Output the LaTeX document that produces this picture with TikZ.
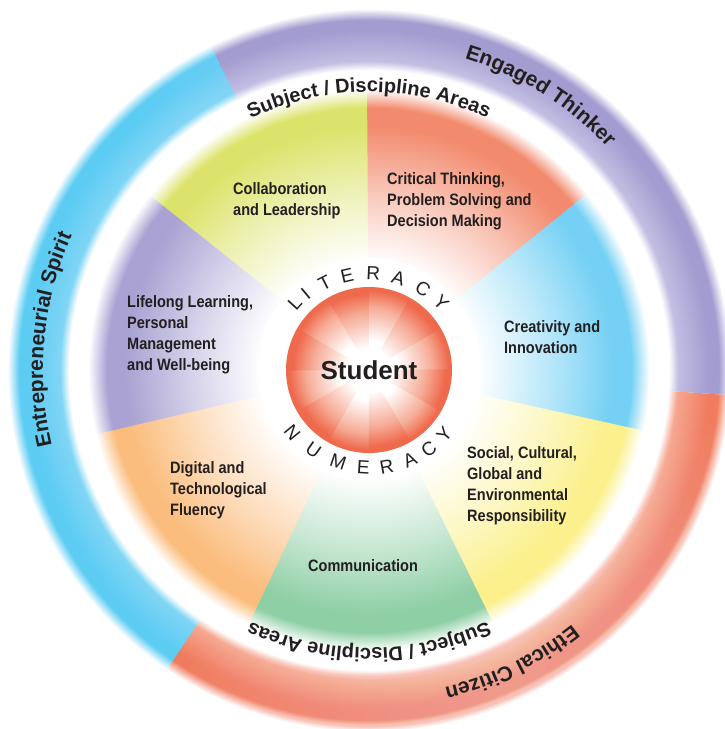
\documentclass[tikz,border=0pt]{standalone}
\usepackage{fontspec}
\setmainfont{Liberation Sans}
\newfontfamily\condfont[FakeStretch=0.88]{Liberation Sans}
\usetikzlibrary{decorations.text}

\definecolor{txt}{HTML}{231F20}
\definecolor{rPur}{HTML}{A39CD0}
\definecolor{rPurL}{HTML}{C2BEE2}
\definecolor{rBlu}{HTML}{5DCCF3}
\definecolor{rBluL}{HTML}{80D5F5}
\definecolor{rRed}{HTML}{F07C5F}
\definecolor{rRedL}{HTML}{F6A690}
\definecolor{wYG}{HTML}{DCE36A}
\definecolor{wSal}{HTML}{F28A6D}
\definecolor{wBlu}{HTML}{74D0F4}
\definecolor{wYel}{HTML}{FBF08C}
\definecolor{wGrn}{HTML}{8ECFA5}
\definecolor{wOrg}{HTML}{FBBD7E}
\definecolor{wPur}{HTML}{A9A2D3}
\definecolor{sRed}{HTML}{EF6A4D}
\definecolor{sMid}{HTML}{F6AC97}

\newcommand\ringshade[3]{\pgfdeclareradialshading{#1}{\pgfpoint{0bp}{0bp}}{color(0bp)=(white); color(20.55bp)=(white); color(21.16bp)=(#2); color(23.3bp)=(#3); color(23.97bp)=(#3); color(24.75bp)=(white); color(50bp)=(white)}}
\newcommand\wedgeshade[2]{\pgfdeclareradialshading{#1}{\pgfpoint{0bp}{0bp}}{color(0bp)=(white); color(9.3bp)=(white); color(15.5bp)=(#2!50!white); color(21.1bp)=(#2); color(22.6bp)=(#2); color(24.2bp)=(white); color(50bp)=(white)}}

\ringshade{shRingPur}{rPurL}{rPur}
\ringshade{shRingBlu}{rBluL}{rBlu}
\ringshade{shRingRed}{rRedL}{rRed}
\wedgeshade{shWYG}{wYG}
\wedgeshade{shWSal}{wSal}
\wedgeshade{shWBlu}{wBlu}
\wedgeshade{shWYel}{wYel}
\wedgeshade{shWGrn}{wGrn}
\wedgeshade{shWOrg}{wOrg}
\wedgeshade{shWPur}{wPur}
\pgfdeclareradialshading{stuLight}{\pgfpoint{0bp}{0bp}}{color(0bp)=(white); color(9bp)=(white); color(19bp)=(sMid); color(24bp)=(sRed); color(50bp)=(sRed)}
\pgfdeclareradialshading{stuDark}{\pgfpoint{0bp}{0bp}}{color(0bp)=(white); color(6.5bp)=(white); color(17bp)=(sMid); color(23bp)=(sRed); color(50bp)=(sRed)}

\newcommand\ringfont{\bfseries\fontsize{21}{25}\selectfont}
\newcommand\subjfont{\bfseries\fontsize{20}{24}\selectfont}

\begin{document}
\begin{tikzpicture}[x=1pt,y=1pt,
  lbl/.style={font=\condfont\bfseries\fontsize{16.5}{21}\selectfont, text=txt, align=left, anchor=north west, inner sep=0pt},
  ringtext/.style={decorate, decoration={text along path, text align=center, text color=txt, text={|\ringfont|#1}}},
  subjtext/.style={decorate, decoration={text along path, text align=center, text color=txt, text={|\subjfont|#1}}},
  letter/.style={font=\fontsize{19}{22}\selectfont, text=txt, inner sep=0pt, anchor=center},
  stulabel/.style={font=\bfseries\fontsize{26}{30}\selectfont, text=txt, inner sep=0pt}]
\useasboundingbox (-369,-359) rectangle (356,370);
\fill[white] (-369,-359) rectangle (356,370);

% outer ring segments
\foreach \a/\b/\sh in {-4/116.4/shRingPur, 116/236.4/shRingBlu, 236/356/shRingRed}{
  \begin{scope}
    \clip (0,0) -- (\a:400) arc[start angle=\a, end angle=\b, radius=400] -- cycle;
    \shade[shading=\sh] (0,0) circle (365);
  \end{scope}
}
% lighter middle of red segment
\foreach \w in {2,4,...,56}
  \fill[white, opacity=0.016] (0,0) -- (295-\w:366) arc[start angle=295-\w, end angle=295+\w, radius=366] -- cycle;
% lighter part of purple segment
\foreach \w in {2,4,...,44}
  \fill[white, opacity=0.009] (0,0) -- (88-\w:366) arc[start angle=88-\w, end angle=88+\w, radius=366] -- cycle;

% wedges
\foreach \a/\b/\sh in {90/141.8/shWYG, 38.57/90.4/shWSal, -12.86/38.97/shWBlu, -64.29/-12.46/shWYel, -115.71/-63.89/shWGrn, -167.14/-115.31/shWOrg, 141.43/193.26/shWPur}{
  \begin{scope}
    \clip (0,0) -- (\a:300) arc[start angle=\a, end angle=\b, radius=300] -- cycle;
    \shade[shading=\sh] (0,0) circle (290);
  \end{scope}
}

% white disk around the student
\fill[white] (0,0) circle (112);

% student starburst
\foreach \a in {0,60,...,300}{
  \begin{scope}
    \clip (0,0) -- (\a:90) arc[start angle=\a, end angle=\a+30.4, radius=90] -- cycle;
    \shade[shading=stuLight] (0,0) circle (83);
  \end{scope}
}
\foreach \a in {30,90,...,330}{
  \begin{scope}
    \clip (0,0) -- (\a:90) arc[start angle=\a, end angle=\a+30.4, radius=90] -- cycle;
    \shade[shading=stuDark] (0,0) circle (83);
  \end{scope}
}
\node[stulabel] (student) at (0,0) {Student};

% LITERACY / NUMERACY
\foreach \ch/\ang/\r in {L/137.9/100, I/129.8/99, T/116.9/97.5, E/103/97, R/87.4/97, A/72.3/96.5, C/56.4/97.5, Y/43.2/99}
  \node[letter, rotate=\ang-90] (lit\ch) at (\ang:\r) {\ch};
\foreach \ch/\ang/\r in {N/219.3/99, U/235.2/97.5, M/251.5/97, E/266.6/97.5, R/280.4/98, A/294.5/98.5, C/307.3/99, Y/319.5/99}
  \node[letter, rotate=\ang+90] (num\ch) at (\ang:\r) {\ch};

% ring texts
\path[ringtext={Engaged Thinker}] (100:326) arc[start angle=100, end angle=16, radius=326];
\path[ringtext={Entrepreneurial Spirit}] (230:326) arc[start angle=230, end angle=119, radius=326];
\path[ringtext={Ethical Citizen}] (-20:326) arc[start angle=-20, end angle=-108, radius=326];
\path[subjtext={Subject / Discipline Areas}] (140:278) arc[start angle=140, end angle=40, radius=278];
\path[subjtext={Subject / Discipline Areas}] (-40:278) arc[start angle=-40, end angle=-140, radius=278];

% wedge labels
\node[lbl] (collab) at (-136,188) {Collaboration\\and Leadership};
\node[lbl] (critical) at (18,198) {Critical Thinking,\\Problem Solving and\\Decision Making};
\node[lbl] (creativity) at (135,50) {Creativity and\\Innovation};
\node[lbl] (lifelong) at (-242,75) {Lifelong Learning,\\Personal\\Management\\and Well-being};
\node[lbl] (social) at (98,-76) {Social, Cultural,\\Global and\\Environmental\\Responsibility};
\node[lbl] (communication) at (-61,-189) {Communication};
\node[lbl] (digital) at (-199,-91) {Digital and\\Technological\\Fluency};
\end{tikzpicture}
\end{document}
